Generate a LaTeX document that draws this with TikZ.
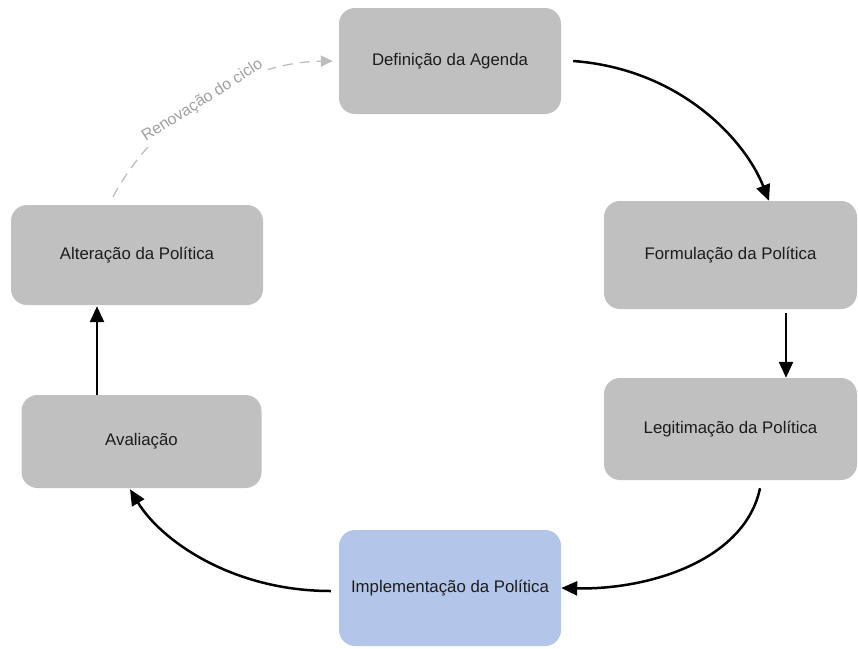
\documentclass[tikz,border=0pt]{standalone}
\usepackage{fontspec}
\setmainfont{Liberation Sans}
\usetikzlibrary{arrows.meta,calc}
\definecolor{boxgray}{HTML}{C0C0C0}
\definecolor{boxblue}{HTML}{B3C6E9}
\definecolor{txt}{HTML}{1C1C1C}
\definecolor{dashgray}{HTML}{BDBDBD}
\definecolor{lblgray}{HTML}{A0A0A0}
\begin{document}
\begin{tikzpicture}[x=1pt,y=-1pt,
  stage/.style={draw=none, fill=boxgray, rounded corners=16pt, text=txt,
    font=\fontsize{16.8}{20}\selectfont, inner sep=0pt},
  flow/.style={line width=2.5pt, -{Triangle[length=16pt,width=14pt]}},
  renew/.style={dashgray, line width=1.3pt, dash pattern=on 10pt off 7pt,
    -{Triangle[length=12pt,width=11pt]}},
  renewlabel/.style={fill=white, text=lblgray, font=\fontsize{16}{19}\selectfont, inner sep=2pt}]
\useasboundingbox (0,0) rectangle (858,648);
\node[stage, minimum width=222pt, minimum height=106pt] (def) at (450,61) {Definição da Agenda};
\node[stage, minimum width=253pt, minimum height=108pt] (form) at (730.5,255) {Formulação da Política};
\node[stage, minimum width=253pt, minimum height=102pt] (legit) at (730.5,429) {Legitimação da Política};
\node[stage, fill=boxblue, minimum width=222pt, minimum height=116pt] (impl) at (450,588) {Implementação da Política};
\node[stage, minimum width=240pt, minimum height=93pt] (aval) at (141.5,441.5) {Avaliação};
\node[stage, minimum width=252pt, minimum height=100pt] (alt) at (137,255) {Alteração da Política};

\draw[flow] ([xshift=12pt]def.east) .. controls +(107,8) and +(-24,-61) .. ([xshift=38.5pt]form.north);
\draw[flow] ([xshift=55.5pt,yshift=-4pt]form.south) -- ([xshift=55.5pt]legit.north);
\draw[flow] ([xshift=29.5pt,yshift=-8pt]legit.south) .. controls +(-15,72) and +(88,2) .. (impl.east);
\draw[flow] ([xshift=-8pt,yshift=-3pt]impl.west) .. controls +(-100,0) and +(30,50) .. ([xshift=-11.5pt,yshift=-1pt]aval.south);
\draw[flow] ([xshift=-44.5pt]aval.north) -- ([xshift=-40pt,yshift=-1pt]alt.south);
\draw[renew] ([xshift=-24pt,yshift=8pt]alt.north) .. controls +(47,-87) and +(-83,1) .. ([xshift=-6pt]def.west)
  node[renewlabel, pos=0.47, sloped] {Renovação do ciclo};
\end{tikzpicture}
\end{document}
